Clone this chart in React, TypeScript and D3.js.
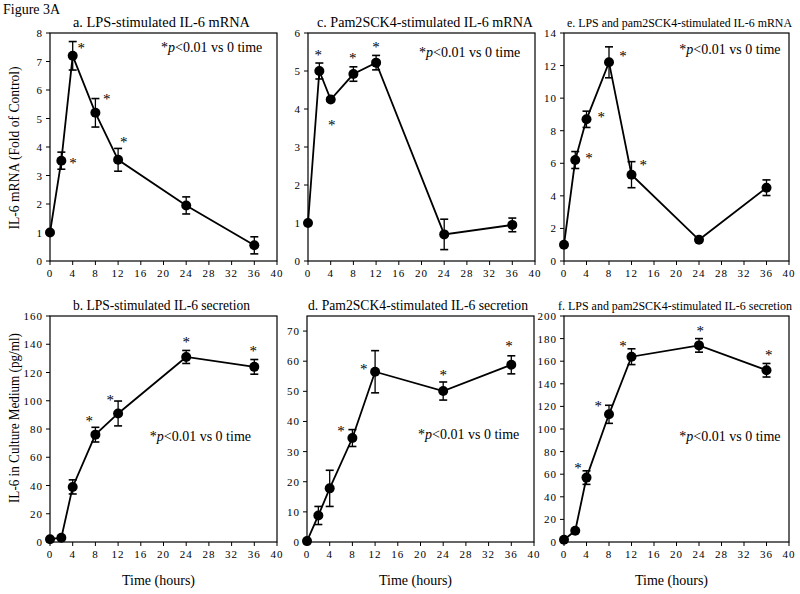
import React from "react";
import * as d3 from "d3";

const times = [0, 2, 4, 8, 12, 24, 36];
const xTicks = [0, 4, 8, 12, 16, 20, 24, 28, 32, 36, 40];

// a. LPS mRNA
const lpsMrna = [1.0, 3.52, 7.2, 5.2, 3.55, 1.95, 0.55];
const lpsMrnaErr = [0, 0.3, 0.5, 0.5, 0.4, 0.3, 0.3];
const lpsMrnaStars = [[4.05, 3.54], [5.5, 7.58], [10, 5.8], [13, 4.27]];
// c. Pam2SCK4 mRNA
const pamMrna = [1.0, 5.0, 4.25, 4.92, 5.22, 0.7, 0.95];
const pamMrnaErr = [0, 0.21, 0.05, 0.19, 0.19, 0.4, 0.18];
const pamMrnaStars = [[1.8, 5.5], [4.2, 3.66], [7.9, 5.42], [12, 5.7]];
// e. LPS + pam2SCK4 mRNA
const bothMrna = [1.0, 6.2, 8.7, 12.2, 5.3, 1.3, 4.5];
const bothMrnaErr = [0, 0.52, 0.5, 0.95, 0.8, 0.1, 0.48];
const bothMrnaStars = [[4.45, 6.5], [6.6, 9.0], [10.5, 12.75], [14.1, 6.07]];
// b. LPS secretion
const lpsSec = [2, 3, 39, 76, 91, 131, 124];
const lpsSecErr = [0, 0, 5, 5.2, 8.8, 4.6, 5.2];
const lpsSecStars = [[6.9, 87.8], [10.6, 102.6], [24, 144], [35.8, 137]];
// d. Pam2SCK4 secretion
const pamSec = [0.3, 8.8, 17.8, 34.5, 56.5, 50.1, 58.8];
const pamSecErr = [0, 3, 6, 2.8, 7, 3, 3];
const pamSecStars = [[6.0, 37.8], [10, 58.4], [24, 56.4], [35.6, 66]];
// f. LPS + pam2SCK4 secretion
const bothSec = [2, 10, 57, 113, 164, 174, 152];
const bothSecErr = [0, 0, 6, 8, 7, 6, 6];
const bothSecStars = [[2.5, 68], [6.1, 123], [10.5, 176], [24.2, 189], [36.4, 168]];

const titles = [
  "a. LPS-stimulated IL-6 mRNA",
  "c. Pam2SCK4-stimulated IL-6 mRNA",
  "e. LPS and pam2SCK4-stimulated IL-6 mRNA",
  "b. LPS-stimulated IL-6 secretion",
  "d. Pam2SCK4-stimulated IL-6 secretion",
  "f. LPS and pam2SCK4-stimulated IL-6 secretion",
];
const titleSizes = [14.5, 14.5, 13, 14.5, 14, 13];
const titleWidths = [177, 216, 225, 177, 220, 234];
const titleCenters = [161.5, 425, 679.5, 161.5, 418, 675];

const yDomains = [[0, 8], [0, 6], [0, 14], [0, 160], [0, 75], [0, 200]];
const yTickLists = [
  d3.range(0, 9, 1),
  d3.range(0, 7, 1),
  d3.range(0, 15, 2),
  d3.range(0, 161, 20),
  d3.range(0, 71, 10),
  d3.range(0, 201, 20),
];
const seriesValues = [lpsMrna, pamMrna, bothMrna, lpsSec, pamSec, bothSec];
const seriesErrors = [lpsMrnaErr, pamMrnaErr, bothMrnaErr, lpsSecErr, pamSecErr, bothSecErr];
const seriesStars = [lpsMrnaStars, pamMrnaStars, bothMrnaStars, lpsSecStars, pamSecStars, bothSecStars];
const noteAnchors = [[28.5, 7.5], [28.5, 5.5], [29.5, 13.0], [26.5, 75], [28.5, 36], [29.5, 94]];

const layout = [
  { x0: 50, x1: 277, y0: 261, y1: 33 },
  { x0: 308, x1: 535, y0: 261, y1: 33 },
  { x0: 564, x1: 789, y0: 261, y1: 33 },
  { x0: 50, x1: 277, y0: 542, y1: 316 },
  { x0: 307, x1: 534, y0: 542, y1: 316 },
  { x0: 564, x1: 789, y0: 542, y1: 316 },
];

const FONT = "'Liberation Serif', 'Times New Roman', serif";

function Panel({ i }: { i: number }) {
  const L = layout[i];
  const x = d3.scaleLinear().domain([0, 40]).range([L.x0, L.x1]);
  const y = d3.scaleLinear().domain(yDomains[i]).range([L.y0, L.y1]);
  const vals = seriesValues[i];
  const errs = seriesErrors[i];
  const line = d3
    .line<number>()
    .x((_, k) => x(times[k]))
    .y((v) => y(v));
  const bottomRow = i >= 3;
  const note = noteAnchors[i];
  return (
    <g>
      <text
        x={titleCenters[i]}
        y={L.y1 - 6}
        textAnchor="middle"
        fontSize={titleSizes[i]}
        textLength={titleWidths[i]}
        lengthAdjust="spacingAndGlyphs"
        fontFamily={FONT}
      >
        {titles[i]}
      </text>
      <rect
        x={L.x0}
        y={L.y1}
        width={L.x1 - L.x0}
        height={L.y0 - L.y1}
        fill="none"
        stroke="#000"
        strokeWidth={1.2}
      />
      {xTicks.map((t) => (
        <g key={"xt" + t}>
          <line x1={x(t)} x2={x(t)} y1={L.y0} y2={L.y0 + 4} stroke="#000" strokeWidth={1} />
          <text
            x={x(t)}
            y={L.y0 + 16}
            textAnchor="middle"
            fontSize={11}
            letterSpacing={1}
            fontFamily={FONT}
          >
            {t}
          </text>
        </g>
      ))}
      {yTickLists[i].map((t) => (
        <g key={"yt" + t}>
          <line x1={L.x0 - 4} x2={L.x0} y1={y(t)} y2={y(t)} stroke="#000" strokeWidth={1} />
          <text
            x={L.x0 - 7}
            y={y(t) + 4}
            textAnchor="end"
            fontSize={11}
            letterSpacing={1}
            fontFamily={FONT}
          >
            {t}
          </text>
        </g>
      ))}
      <path d={line(vals) || ""} fill="none" stroke="#000" strokeWidth={1.8} />
      {vals.map((v, k) =>
        errs[k] > 0 ? (
          <g key={"e" + k}>
            <line
              x1={x(times[k])}
              x2={x(times[k])}
              y1={y(v + errs[k])}
              y2={y(v - errs[k])}
              stroke="#000"
              strokeWidth={1.3}
            />
            <line
              x1={x(times[k]) - 4}
              x2={x(times[k]) + 4}
              y1={y(v + errs[k])}
              y2={y(v + errs[k])}
              stroke="#000"
              strokeWidth={1.6}
            />
            <line
              x1={x(times[k]) - 4}
              x2={x(times[k]) + 4}
              y1={y(v - errs[k])}
              y2={y(v - errs[k])}
              stroke="#000"
              strokeWidth={1.6}
            />
          </g>
        ) : null
      )}
      {vals.map((v, k) => (
        <circle key={"c" + k} cx={x(times[k])} cy={y(v)} r={5} fill="#000" />
      ))}
      {seriesStars[i].map((s, k) => (
        <text
          key={"s" + k}
          x={x(s[0])}
          y={y(s[1]) + 8}
          textAnchor="middle"
          fontSize={15}
          fontFamily={FONT}
          fill="#000"
        >
          *
        </text>
      ))}
      <text
        x={x(note[0])}
        y={y(note[1]) + 5}
        textAnchor="middle"
        fontSize={14}
        fontFamily={FONT}
      >
        <tspan>*</tspan>
        <tspan fontStyle="italic">p</tspan>
        <tspan>{"<0.01 vs 0 time"}</tspan>
      </text>
      {bottomRow ? (
        <text
          x={(L.x0 + L.x1) / 2 - 5}
          y={L.y0 + 43}
          textAnchor="middle"
          fontSize={14}
          fontFamily={FONT}
        >
          Time (hours)
        </text>
      ) : null}
    </g>
  );
}

export default function App() {
  return (
    <svg
      width={800}
      height={594}
      style={{ position: "absolute", left: 0, top: 0, background: "#fff" }}
    >
      <rect x={0} y={0} width={800} height={594} fill="#fff" />
      <text x={3} y={14} fontSize={14} fontFamily={FONT}>
        Figure 3A
      </text>
      <text
        transform="translate(19,148) rotate(-90)"
        textAnchor="middle"
        fontSize={15}
        textLength={163}
        lengthAdjust="spacingAndGlyphs"
        fontFamily={FONT}
      >
        IL-6 mRNA (Fold of Control)
      </text>
      <text
        transform="translate(19,418) rotate(-90)"
        textAnchor="middle"
        fontSize={15}
        textLength={170}
        lengthAdjust="spacingAndGlyphs"
        fontFamily={FONT}
      >
        IL-6 in Culture Medium (pg/ml)
      </text>
      {layout.map((_, i) => (
        <Panel key={i} i={i} />
      ))}
    </svg>
  );
}
